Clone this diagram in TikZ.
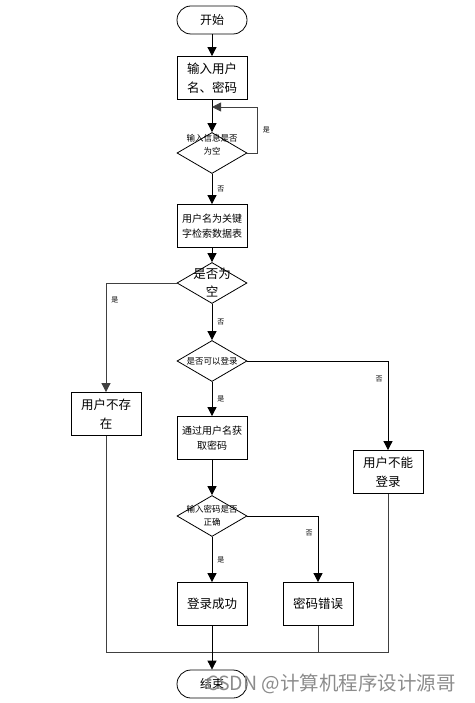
\documentclass[tikz,border=0pt]{standalone}
\usepackage{fontspec}
\setmainfont{Noto Sans CJK SC}
\usetikzlibrary{shapes.geometric,arrows.meta}

\begin{document}
\begin{tikzpicture}[x=1pt, y=-1pt, line width=0.8pt, >={Triangle[width=9pt,length=9pt]},
  term/.style={rectangle, rounded corners=14pt, draw, minimum width=70pt, minimum height=28pt, font=\fontsize{12}{14}\selectfont},
  proc/.style={rectangle, draw, minimum width=70pt, minimum height=43pt, inner sep=1pt, align=center, font=\fontsize{12.5}{19}\selectfont},
  procsmall/.style={proc, font=\fontsize{10}{15}\selectfont},
  decide/.style={diamond, draw, minimum width=70pt, minimum height=41pt, inner sep=0pt},
  dtext/.style={align=center, inner sep=0pt, font=\fontsize{8.5}{13}\selectfont},
  yesno/.style={font=\fontsize{7}{8}\selectfont, inner sep=5pt},
  around/.style={draw=black!75}]
\useasboundingbox (0,0) rectangle (474,703);

% main column
\node (start) [term] at (212,20) {开始};
\node (input) [proc] at (212,78) {输入用户\\名、密码};
\node (check) [decide, label={[dtext, yshift=8pt]center:{输入信息是否\\为空}}] at (212,153) {};
\node (search) [procsmall] at (212,226) {用户名为关键\\字检索数据表};
\node (empty) [decide, label={[dtext, font=\fontsize{12.5}{18}\selectfont]center:{是否为\\空}}] at (212,283) {};
\node (canlog) [decide, label={[dtext]center:是否可以登录}] at (212,361) {};
\node (getpw) [procsmall] at (212,438) {通过用户名获\\取密码};
\node (pwok) [decide, label={[dtext]center:{输入密码是否\\正确}}] at (212,516) {};
\node (success) [proc] at (212,604) {登录成功};
\node (end) [term] at (212,684) {结束};

% side boxes
\node (nouser) [proc] at (106,414) {用户不存\\在};
\node (nolog) [proc] at (388,472) {用户不能\\登录};
\node (pwerr) [proc] at (318,604) {密码错误};

\coordinate (back) at (212,107);
\coordinate (join) at (212,652);

\draw [->] (start) -- (input);
\draw [->] (input) -- (check);
\draw [->, around] (check.east) -- ++(10,0) |- node[yesno, pos=0.25, right] {是} (back);
\draw [->] (check) -- node[yesno, right] {否} (search);
\draw [->] (search) -- (empty);
\draw [->, around] (empty.west) -| node[yesno, pos=0.58, right] {是} (nouser);
\draw [->] (empty) -- node[yesno, right] {否} (canlog);
\draw [->] (canlog.east) -| node[yesno, pos=0.6, left] {否} (nolog);
\draw [->] (canlog) -- node[yesno, right] {是} (getpw);
\draw [->] (getpw) -- (pwok);
\draw [->] (pwok.east) -| node[yesno, pos=0.63, left] {否} (pwerr);
\draw [->] (pwok) -- node[yesno, right] {是} (success);

% merge to end
\draw [around] (nouser) -- (nouser |- join) -- (nolog |- join) -- (nolog);
\draw [around] (pwerr) -- (pwerr |- join);
\draw [->] (success) -- (end);

\node (mark) [text=black!45, anchor=west, inner sep=0pt, font=\fontsize{19.5}{22}\selectfont] at (206,684) {CSDN @计算机程序设计源哥};
\end{tikzpicture}
\end{document}
